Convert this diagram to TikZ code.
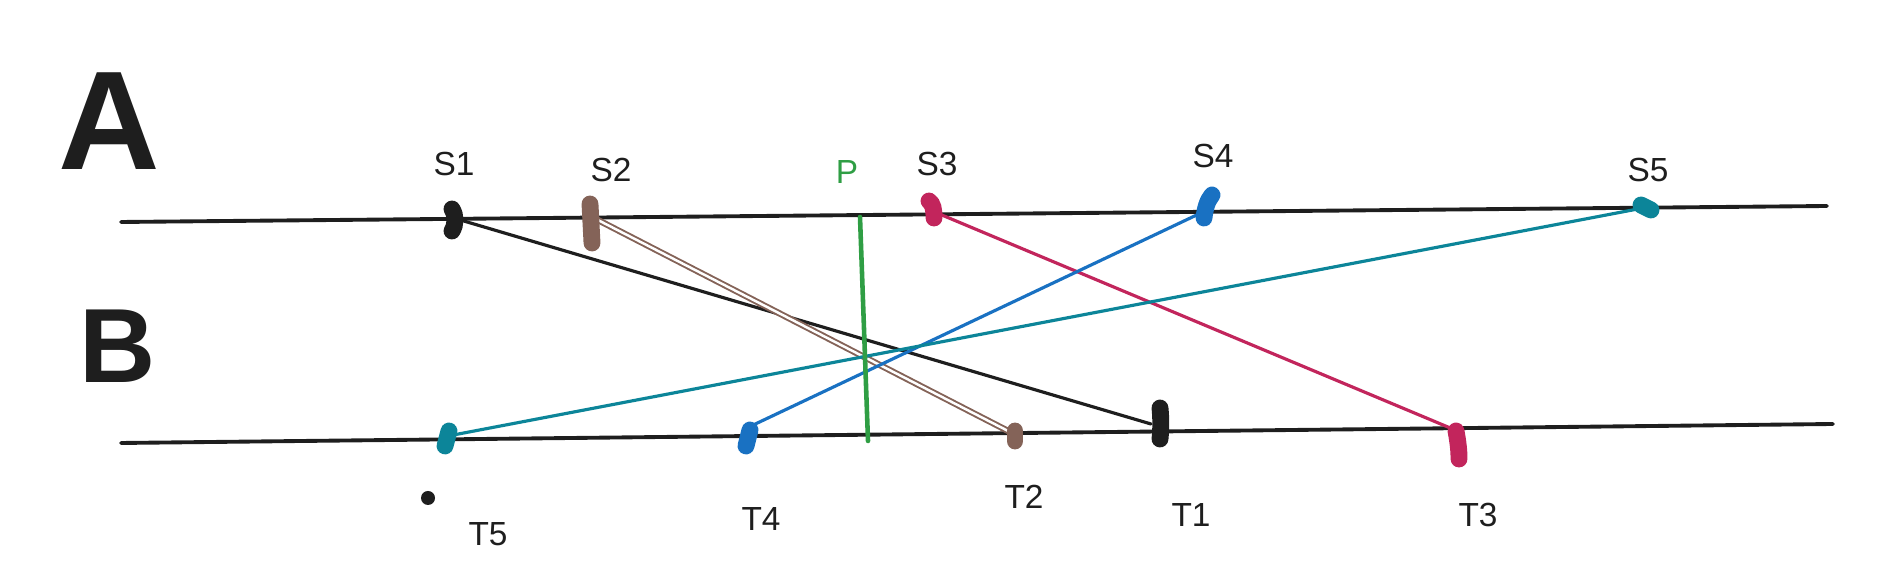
\documentclass[tikz,border=0pt]{standalone}
\usepackage{fontspec}
\setmainfont{Liberation Sans}
\usepackage{xcolor}

\definecolor{inkblack}{HTML}{1E1E1E}
\definecolor{inkbrown}{HTML}{846358}
\definecolor{inkred}{HTML}{C2255C}
\definecolor{inkblue}{HTML}{1971C2}
\definecolor{inkteal}{HTML}{0C8599}
\definecolor{inkgreen}{HTML}{2F9E44}

\begin{document}
\begin{tikzpicture}[x=0.01cm,y=-0.01cm,
  track/.style={inkblack, line width=1.1pt, line cap=round},
  link/.style={line width=0.9pt, line cap=round},
  tick/.style={line width=4.8pt, line cap=round},
  lbl/.style={font=\fontsize{9.5}{10}\selectfont, text=inkblack, inner sep=0pt}]

\useasboundingbox (0,0) rectangle (1900,577);

% Track letters
\node[font=\bfseries\fontsize{40}{40}\selectfont, text=inkblack] (lA) at (109,121) {A};
\node[font=\bfseries\fontsize{30}{30}\selectfont, text=inkblack] (lB) at (118,346) {B};

% Tracks
\coordinate (aW) at (121,222);
\coordinate (aE) at (1827,206);
\coordinate (bW) at (121,443);
\coordinate (bE) at (1833,424);
\draw[track] (aW) -- (aE);
\draw[track] (bW) -- (bE);

% Points on A
\coordinate (s1) at (457,219);
\coordinate (s2) at (594,218);
\coordinate (s3) at (937,213);
\coordinate (s4) at (1203,212);
\coordinate (s5) at (1643,208);

% Points on B
\coordinate (t1) at (1151,424);
\coordinate (t2) at (1012,433);
\coordinate (t3) at (1455,430);
\coordinate (t4) at (749,427);
\coordinate (t5) at (448,436);

% Links
\draw[link, inkblack] (s1) -- (t1);
\draw[inkbrown, line width=0.55pt, double=white, double distance=0.7pt] (s2) -- (t2);
\draw[link, inkred] (s3) -- (t3);
\draw[link, inkblue] (s4) -- (t4);
\draw[link, inkteal] (s5) -- (t5);

% Cut line
\coordinate (pN) at (860,217);
\coordinate (pS) at (868,441);
\draw[inkgreen, line width=1.3pt, line cap=round] (pN) -- (pS);

% Ticks on A
\draw[tick, inkblack] (452,209) .. controls (456,216) and (456,224) .. (452,231);
\draw[tick, inkbrown] (590,204) -- (592,243);
\draw[tick, inkred] (929,201) .. controls (933,204) and (934,209) .. (934,218);
\draw[tick, inkblue] (1212,195) .. controls (1207,201) and (1205,209) .. (1204,218);
\draw[tick, inkteal] (1641,205) -- (1651,210);

% Ticks on B
\draw[tick, inkteal] (449,431) -- (445,446);
\draw[tick, inkblue] (750,430) -- (746,446);
\draw[tick, inkbrown] (1015,431) -- (1015,441);
\draw[tick, inkblack] (1160,408) .. controls (1161,418) and (1161,429) .. (1160,439);
\draw[tick, inkred] (1456,431) .. controls (1458,442) and (1459,450) .. (1459,459);

% Stray dot
\fill[inkblack] (428,498) circle (7);

% Labels
\node[lbl] (lS1) at (454,164) {S1};
\node[lbl] (lS2) at (611,170) {S2};
\node[lbl, text=inkgreen] (lP) at (847,172) {P};
\node[lbl] (lS3) at (937,164) {S3};
\node[lbl] (lS4) at (1213,156) {S4};
\node[lbl] (lS5) at (1648,170) {S5};
\node[lbl] (lT5) at (488,534) {T5};
\node[lbl] (lT4) at (761,519) {T4};
\node[lbl] (lT2) at (1024,497) {T2};
\node[lbl] (lT1) at (1191,515) {T1};
\node[lbl] (lT3) at (1478,515) {T3};

\end{tikzpicture}
\end{document}
